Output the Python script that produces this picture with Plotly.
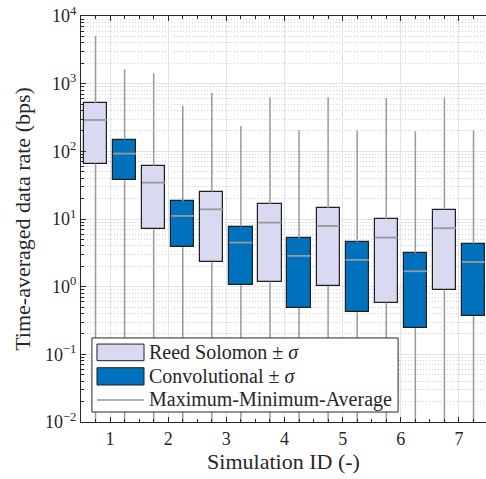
import plotly.graph_objects as go

# ---- data ----
sim_ids = [1, 2, 3, 4, 5, 6, 7]

rs_upper = [513, 61.5, 25.4, 16.6, 14.6, 9.93, 13.8]     # mean + sigma
rs_lower = [66, 7.07, 2.30, 1.19, 1.03, 0.583, 0.906]    # mean - sigma
rs_avg   = [291, 34.5, 13.9, 8.85, 7.9, 5.32, 7.31]
rs_max   = [5070, 1423, 736, 629, 629, 608, 629]
rs_min   = [0.001, 0.001, 0.001, 0.001, 0.001, 0.001, 0.001]  # below axis floor

cv_upper = [149, 18.3, 7.72, 5.2, 4.59, 3.12, 4.33]
cv_lower = [37.4, 3.83, 1.05, 0.486, 0.42, 0.243, 0.366]
cv_avg   = [92.5, 11.1, 4.48, 2.85, 2.49, 1.69, 2.32]
cv_max   = [1630, 469, 237, 205, 205, 198, 205]
cv_min   = [0.001, 0.001, 0.001, 0.001, 0.001, 0.001, 0.001]

y_tickvals = [1e-2, 1e-1, 1e0, 1e1, 1e2, 1e3, 1e4]
y_ticktext = ["10<sup>\u22122</sup>", "10<sup>\u22121</sup>", "10<sup>0</sup>",
              "10<sup>1</sup>", "10<sup>2</sup>", "10<sup>3</sup>", "10<sup>4</sup>"]

legend_labels = ["Reed Solomon \u00b1 <i>\u03c3</i>", "Convolutional \u00b1 <i>\u03c3</i>",
                 "Maximum-Minimum-Average"]

# ---- styles ----
RS_FILL = "#D9D9F2"
CV_FILL = "#0072BD"
EDGE = "#1F1F1F"
GRAY = "#999999"
TXT = "#262626"
FONT = "Liberation Serif"
OFFSET = 0.25
BOX_W = 0.4
AVG_HALF = 0.2

fig = go.Figure()


def whiskers(xs, lo, hi, mn, mx):
    wx, wy = [], []
    for x, l, h, a, b in zip(xs, lo, hi, mn, mx):
        wx += [x, x, None, x, x, None]
        wy += [a, l, None, h, b, None]
    return wx, wy


def avg_lines(xs, av):
    ax, ay = [], []
    for x, a in zip(xs, av):
        ax += [x - AVG_HALF, x + AVG_HALF, None]
        ay += [a, a, None]
    return ax, ay


for off, up, lo, av, mn, mx, fill in [
    (-OFFSET, rs_upper, rs_lower, rs_avg, rs_min, rs_max, RS_FILL),
    (OFFSET, cv_upper, cv_lower, cv_avg, cv_min, cv_max, CV_FILL),
]:
    xs = [i + off for i in sim_ids]
    wx, wy = whiskers(xs, lo, up, mn, mx)
    fig.add_trace(go.Scatter(x=wx, y=wy, mode="lines",
                             line=dict(color=GRAY, width=1.5),
                             showlegend=False, hoverinfo="skip"))
    fig.add_trace(go.Bar(x=xs, y=[u - l for u, l in zip(up, lo)], base=lo,
                         width=BOX_W,
                         marker=dict(color=fill, line=dict(color=EDGE, width=1.2)),
                         showlegend=False))
    ax, ay = avg_lines(xs, av)
    fig.add_trace(go.Scatter(x=ax, y=ay, mode="lines",
                             line=dict(color=GRAY, width=1.8),
                             showlegend=False, hoverinfo="skip"))

# ---- custom legend (MATLAB-like) ----
shapes = [
    dict(type="rect", xref="paper", yref="paper", x0=0.027, x1=0.783, y0=0.0246, y1=0.207,
         fillcolor="white", line=dict(color="#262626", width=1), layer="above"),
    dict(type="rect", xref="paper", yref="paper", x0=0.0395, x1=0.1556, y0=0.151, y1=0.192,
         fillcolor=RS_FILL, line=dict(color=EDGE, width=1), layer="above"),
    dict(type="rect", xref="paper", yref="paper", x0=0.0395, x1=0.1556, y0=0.0911, y1=0.1337,
         fillcolor=CV_FILL, line=dict(color=EDGE, width=1), layer="above"),
    dict(type="line", xref="paper", yref="paper", x0=0.0395, x1=0.1556, y0=0.0542, y1=0.0542,
         line=dict(color=GRAY, width=1.5), layer="above"),
]
annotations = []
for lbl, yy in zip(legend_labels, [0.172, 0.113, 0.0542]):
    annotations.append(dict(xref="paper", yref="paper", x=0.163, y=yy, text=lbl,
                            showarrow=False, xanchor="left", yanchor="middle",
                            font=dict(family=FONT, size=20, color=TXT)))

minor_y = [k * 10 ** e for e in range(-2, 4) for k in range(2, 10)]

fig.update_layout(
    width=486, height=479,
    margin=dict(l=81, r=0, t=16, b=57),
    paper_bgcolor="white", plot_bgcolor="white",
    barmode="overlay", bargap=0,
    showlegend=False,
    shapes=shapes, annotations=annotations,
    font=dict(family=FONT, color=TXT),
    xaxis=dict(
        range=[0.5, 7.465],
        tickvals=sim_ids,
        ticks="inside", ticklen=5, tickcolor="#262626",
        showline=True, linecolor="#262626", linewidth=1, mirror="ticks",
        showgrid=True, gridcolor="#E3E3E3", gridwidth=1,
        zeroline=False,
        tickfont=dict(family=FONT, size=18, color=TXT),
        minor=dict(dtick=0.25, tick0=0, ticks="inside", ticklen=3, tickcolor="#262626",
                   showgrid=False),
        title=dict(text="Simulation ID (-)", font=dict(family=FONT, size=22, color=TXT),
                   standoff=4),
    ),
    yaxis=dict(
        type="log",
        range=[-2, 4],
        tickvals=y_tickvals, ticktext=y_ticktext,
        ticks="inside", ticklen=5, tickcolor="#262626",
        showline=True, linecolor="#262626", linewidth=1, mirror=False,
        showgrid=True, gridcolor="#E3E3E3", gridwidth=1,
        zeroline=False,
        tickfont=dict(family=FONT, size=18, color=TXT),
        minor=dict(tickvals=minor_y, ticks="inside", ticklen=3, tickcolor="#262626",
                   showgrid=True, gridcolor="#D0D0D0", griddash="1px,2px", gridwidth=1),
        title=dict(text="Time-averaged data rate (bps)",
                   font=dict(family=FONT, size=22, color=TXT), standoff=8),
    ),
)

fig.write_html("out.html")
